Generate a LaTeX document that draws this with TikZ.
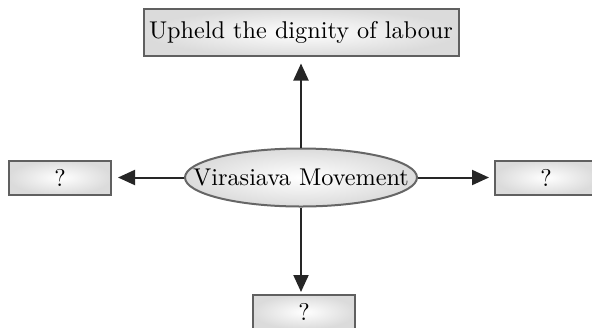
\documentclass[tikz,border=0pt]{standalone}
\usetikzlibrary{arrows.meta,shapes.geometric}
\begin{document}
\begin{tikzpicture}[x=0.4pt,y=-0.4pt,font=\fontsize{9.7}{11.5}\selectfont,
  box/.style={rectangle,draw=gray!75!black,line width=0.8pt,inner color=white,outer color=gray!28,minimum width=40.8pt,minimum height=13.6pt,inner sep=1pt},
  hub/.style={ellipse,draw=gray!80!black,line width=0.8pt,inner color=white,outer color=gray!28,minimum width=92.8pt,minimum height=23.2pt,inner xsep=-12pt,inner ysep=0pt},
  link/.style={draw=black!85,line width=0.8pt,-{Triangle[length=6.8pt,width=6pt]}}]
\useasboundingbox (0,0) rectangle (592,327);
\clip (0,0) rectangle (592,327);
%\node at (301,178) {centre};
\node[hub] (vm) at (301,177.5) {Virasiava Movement};
\node[box,minimum width=126pt,minimum height=18.8pt] (dig) at (301,32.5) {Upheld the dignity of labour};
\node[box] (qw) at (60,177.5) {?};
\node[box] (qe) at (546,177.5) {?};
\node[box] (qs) at (304,312) {?};
\draw[link,shorten >=2.6pt] (vm) -- (dig);
\draw[link,shorten >=2.4pt] (vm.west) -- (qw);\draw[link,shorten >=2pt] (vm.east) -- (qe);
\draw[link,shorten >=0.8pt] (vm.south) -- (vm.south |- qs.north);
\end{tikzpicture}
\end{document}
